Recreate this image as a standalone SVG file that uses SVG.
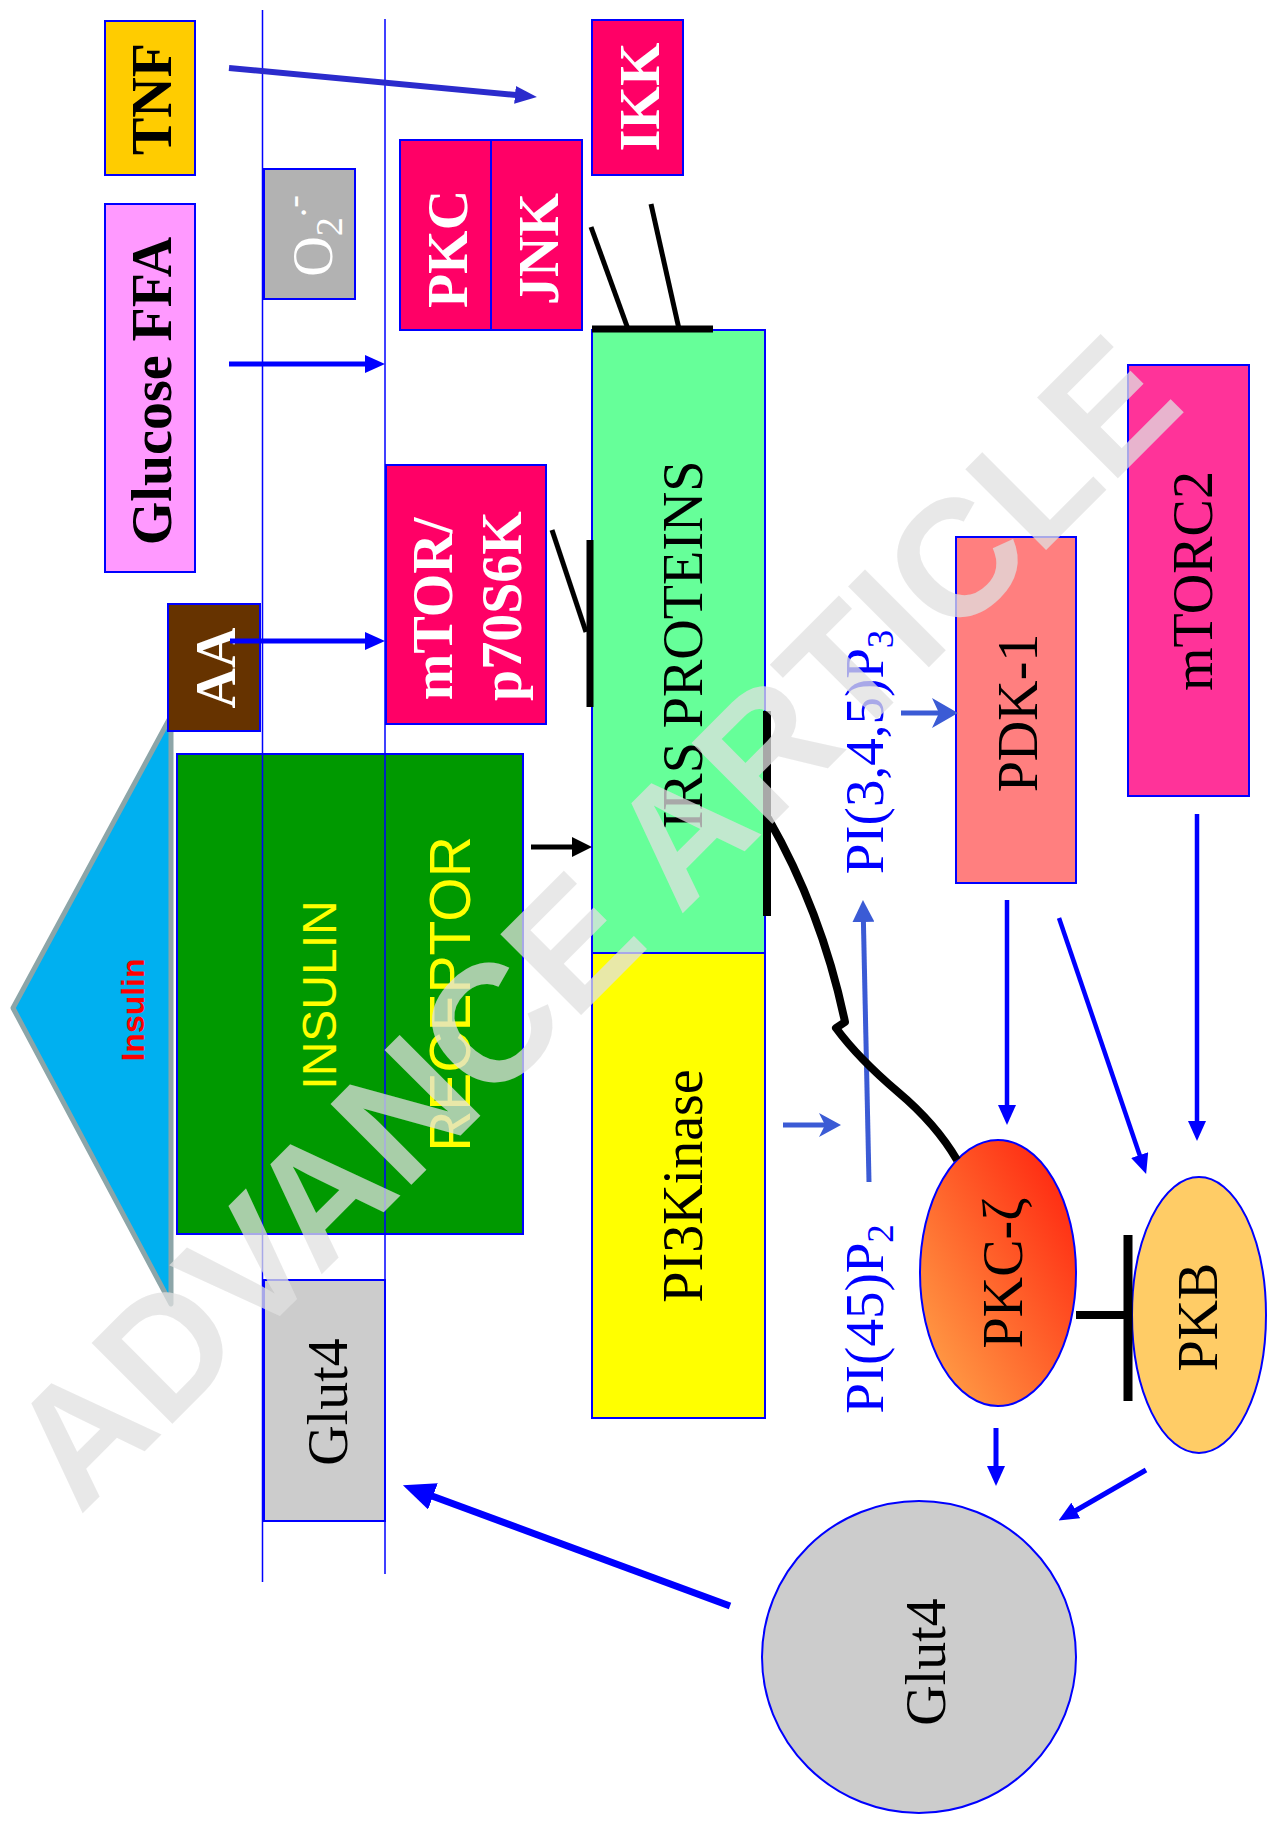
<svg xmlns="http://www.w3.org/2000/svg" width="1272" height="1828" viewBox="0 0 1272 1828">
<style>
.box{stroke:#0000FF;stroke-width:2}
.lbl{font-family:"Liberation Serif","Times New Roman",serif;font-size:56px;text-anchor:middle}
.b{font-weight:bold}
.w{fill:#FFFFFF}
.k{fill:#000000}
.pi{fill:#0000FF;font-size:55px}
.sans{font-family:"Liberation Sans",Arial,sans-serif;text-anchor:middle}
.mem{stroke:#0000FF;stroke-width:1.5;fill:none}
.blue{stroke:#0000FF;fill:none}
.lb{stroke:#3B5BD5;fill:none;stroke-width:5}
.inh{stroke:#000000;fill:none}
</style>
<defs>
<marker id="hTNF" markerUnits="userSpaceOnUse" markerWidth="22" markerHeight="18" refX="1" refY="9" orient="auto"><path d="M0,0 L22,9 L0,18 z" fill="#2B2BCC"/></marker>
<marker id="hBlue" markerUnits="userSpaceOnUse" markerWidth="20" markerHeight="18" refX="1" refY="9" orient="auto"><path d="M0,0 L20,9 L0,18 z" fill="#0000FF"/></marker>
<marker id="hBig" markerUnits="userSpaceOnUse" markerWidth="32" markerHeight="28" refX="1" refY="14" orient="auto"><path d="M0,0 L32,14 L0,28 z" fill="#0000FF"/></marker>
<marker id="hBlack" markerUnits="userSpaceOnUse" markerWidth="20" markerHeight="20" refX="1" refY="10" orient="auto"><path d="M0,0 L20,10 L0,20 z" fill="#000000"/></marker>
<marker id="hLight" markerUnits="userSpaceOnUse" markerWidth="22" markerHeight="22" refX="1" refY="11" orient="auto"><path d="M0,0 L22,11 L0,22 z" fill="#3B5BD5"/></marker>
<marker id="hChev" markerUnits="userSpaceOnUse" markerWidth="22" markerHeight="24" refX="6" refY="12" orient="auto"><path d="M0,0 L22,12 L0,24 L6,12 z" fill="#3B5BD5"/></marker>
<marker id="hChevL" markerUnits="userSpaceOnUse" markerWidth="26" markerHeight="30" refX="7" refY="15" orient="auto"><path d="M0,0 L26,15 L0,30 L7,15 z" fill="#3B5BD5"/></marker>
<linearGradient id="gPKCz" x1="0" y1="1" x2="1" y2="0">
<stop offset="0" stop-color="#FFAA4C"/>
<stop offset="1" stop-color="#FF1A0A"/>
</linearGradient>
</defs>

<g id="insulin">
<polygon points="171,716 13,1008 171,1304" fill="#00B0F0" stroke="#8CA5A8" stroke-width="5" stroke-linejoin="round"/>
<text class="sans" transform="translate(144,1010) rotate(-90)" font-size="32" font-weight="bold" fill="#FF0000">Insulin</text>
</g>
<g id="insulin-receptor">
<rect class="box" x="177" y="754" width="346" height="480" fill="#009900"/>
<text class="sans" transform="translate(336,995) rotate(-90)" font-size="48" fill="#FFFF00">INSULIN</text>
<text class="sans" transform="translate(470,994) rotate(-90)" font-size="57" fill="#FFFF00">RECEPTOR</text>
</g>
<g id="tnf">
<rect class="box" x="105" y="21" width="90" height="154" fill="#FFCC00"/>
<text class="lbl b k" transform="translate(171,99) rotate(-90)">TNF</text>
</g>
<g id="glucose-ffa">
<rect class="box" x="105" y="204" width="90" height="368" fill="#FF99FF"/>
<text class="lbl b k" transform="translate(171,391) rotate(-90)">Glucose FFA</text>
</g>
<g id="o2">
<rect class="box" x="264" y="169" width="91" height="130" fill="#B2B2B2"/>
<text class="lbl w" transform="translate(332,236) rotate(-90)" font-size="60">O<tspan font-size="38" dy="10">2</tspan><tspan font-size="38" dy="-36">.-</tspan></text>
</g>
<g id="aa">
<rect class="box" x="168" y="604" width="92" height="127" fill="#663300"/>
<text class="lbl b w" transform="translate(235,668) rotate(-90)">AA</text>
</g>
<g id="ikk">
<rect class="box" x="592" y="20" width="91" height="155" fill="#FF0066"/>
<text class="lbl b w" transform="translate(659,97) rotate(-90)">IKK</text>
</g>
<g id="pkc">
<rect class="box" x="400" y="140" width="91" height="190" fill="#FF0066"/>
<text class="lbl b w" transform="translate(467,249) rotate(-90)">PKC</text>
</g>
<g id="jnk">
<rect class="box" x="491" y="140" width="91" height="190" fill="#FF0066"/>
<text class="lbl b w" transform="translate(558,249) rotate(-90)">JNK</text>
</g>
<g id="mtor">
<rect class="box" x="386" y="465" width="160" height="259" fill="#FF0066"/>
<text class="lbl b w" transform="translate(452,609) rotate(-90)">mTOR/</text>
<text class="lbl b w" transform="translate(521,606) rotate(-90)">p70S6K</text>
</g>
<g id="irs">
<rect class="box" x="592" y="330" width="173" height="623" fill="#66FF99"/>
<text class="lbl k" transform="translate(702,645) rotate(-90)" font-size="60">IRS PROTEINS</text>
</g>
<g id="pi3k">
<rect class="box" x="592" y="953" width="173" height="465" fill="#FFFF00"/>
<text class="lbl k" transform="translate(702,1186) rotate(-90)" font-size="60">PI3Kinase</text>
</g>
<g id="glut4-membrane">
<rect class="box" x="264" y="1280" width="121" height="241" fill="#CCCCCC"/>
<text class="lbl k" transform="translate(347,1402) rotate(-90)">Glut4</text>
</g>
<g id="pdk1">
<rect class="box" x="956" y="537" width="120" height="346" fill="#FF7F7F"/>
<text class="lbl k" transform="translate(1037,713) rotate(-90)">PDK-1</text>
</g>
<g id="mtorc2">
<rect class="box" x="1128" y="365" width="121" height="431" fill="#FF3399"/>
<text class="lbl k" transform="translate(1212,581) rotate(-90)">mTORC2</text>
</g>
<g id="pip3">
<text class="lbl pi" transform="translate(883,752) rotate(-90)">PI(3,4,5)P<tspan font-size="37" dy="10">3</tspan></text>
</g>
<g id="pip2">
<text class="lbl pi" transform="translate(883,1319) rotate(-90)">PI(45)P<tspan font-size="37" dy="10">2</tspan></text>
</g>
<g id="pkc-zeta">
<ellipse cx="998" cy="1273" rx="78" ry="133" fill="url(#gPKCz)" stroke="#0000FF" stroke-width="2"/>
<text class="lbl k" transform="translate(1022,1273) rotate(-90)">PKC-ζ</text>
</g>
<g id="pkb">
<ellipse cx="1199" cy="1315" rx="67" ry="138" fill="#FFCC66" stroke="#0000FF" stroke-width="2"/>
<text class="lbl k" transform="translate(1217,1317) rotate(-90)" font-size="55">PKB</text>
</g>
<g id="glut4-vesicle">
<ellipse cx="919" cy="1657" rx="157" ry="156" fill="#CCCCCC" stroke="#0000FF" stroke-width="2"/>
<text class="lbl k" transform="translate(945,1662) rotate(-90)" font-size="70">Glut4</text>
</g>

<g id="membrane">
<line class="mem" x1="262.5" y1="10" x2="262.5" y2="1582"/>
<line class="mem" x1="385" y1="19" x2="385" y2="1574"/>
</g>

<g id="connectors">
<line x1="229" y1="68" x2="516" y2="95" stroke="#2B2BCC" stroke-width="6" marker-end="url(#hTNF)"/>
<line class="blue" x1="229" y1="364" x2="366" y2="364" stroke-width="5" marker-end="url(#hBlue)"/>
<line class="blue" x1="230" y1="641" x2="366" y2="641" stroke-width="5" marker-end="url(#hBlue)"/>
<line x1="531" y1="847" x2="573" y2="847" stroke="#000000" stroke-width="5" marker-end="url(#hBlack)"/>
<line class="lb" x1="783" y1="1125" x2="825" y2="1125" marker-end="url(#hChev)"/>
<line class="lb" x1="901" y1="713" x2="939" y2="713" marker-end="url(#hChevL)"/>
<line class="lb" x1="869" y1="1182" x2="863.4" y2="921" marker-end="url(#hLight)"/>
<line class="blue" x1="1007" y1="900" x2="1007" y2="1106" stroke-width="4.5" marker-end="url(#hBlue)"/>
<line class="blue" x1="1059" y1="918" x2="1140" y2="1156" stroke-width="4.5" marker-end="url(#hBlue)"/>
<line class="blue" x1="1197" y1="814" x2="1197" y2="1122" stroke-width="4.5" marker-end="url(#hBlue)"/>
<line class="blue" x1="996" y1="1428" x2="996" y2="1467" stroke-width="5" marker-end="url(#hBlue)"/>
<line class="blue" x1="1146" y1="1470" x2="1075" y2="1511" stroke-width="5" marker-end="url(#hBlue)"/>
<line class="blue" x1="730" y1="1606" x2="432" y2="1496" stroke-width="7" marker-end="url(#hBig)"/>
<line class="inh" x1="591" y1="227" x2="628" y2="329" stroke-width="5"/>
<line class="inh" x1="651" y1="204" x2="679" y2="329" stroke-width="5"/>
<line class="inh" x1="592" y1="329" x2="713" y2="329" stroke-width="7"/>
<line class="inh" x1="552" y1="530" x2="586" y2="632" stroke-width="5"/>
<line class="inh" x1="590" y1="540" x2="590" y2="707" stroke-width="7"/>
<line class="inh" x1="767" y1="711" x2="767" y2="916" stroke-width="8"/>
<path class="inh" d="M768,818 Q822,912 845,1022 L836,1028 Q858,1058 898,1092 Q936,1124 957,1160" stroke-width="8" stroke-linejoin="round"/>
<line class="inh" x1="1076" y1="1315" x2="1128" y2="1315" stroke-width="8"/>
<line class="inh" x1="1128" y1="1235" x2="1128" y2="1401" stroke-width="9"/>
</g>

<text id="watermark" transform="translate(634,962) rotate(-45)" font-family="'Liberation Sans',Arial,sans-serif" font-weight="bold" font-size="166" text-anchor="middle" fill="#E0E0E0" fill-opacity="0.75">ADVANCE ARTICLE</text>
</svg>
